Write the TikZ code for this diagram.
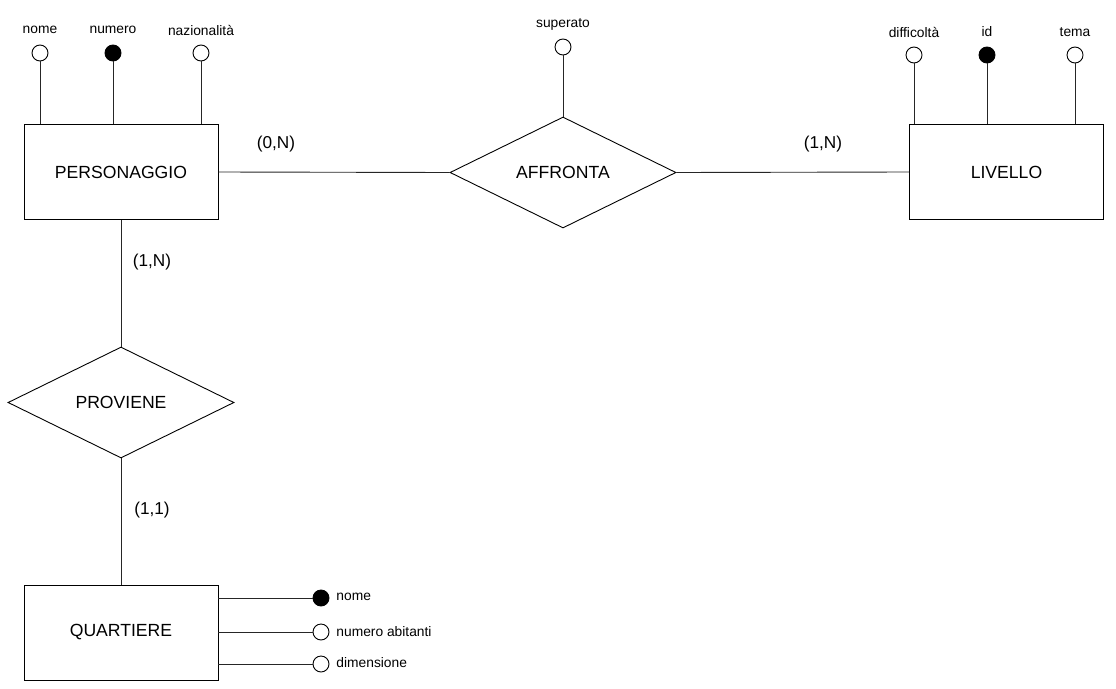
\documentclass[tikz,border=0pt]{standalone}
\usepackage{fontspec}
\setmainfont{Liberation Sans}
\usetikzlibrary{shapes.geometric}
\begin{document}
\begin{tikzpicture}[x=1pt,y=-1pt,
  line width=0.9pt,
  every node/.style={inner sep=0pt},
  entity/.style={draw, minimum width=194pt, minimum height=95pt, font=\fontsize{17.6}{20}\selectfont},
  relation/.style={draw, diamond, aspect=2.02, minimum width=226pt, minimum height=111pt, font=\fontsize{17.6}{20}\selectfont},
  attr/.style={draw, circle, minimum size=16pt, fill=white},
  key/.style={attr, fill=black},
  attrtext/.style={font=\fontsize{13.8}{16}\selectfont},
  card/.style={font=\fontsize{17.2}{20}\selectfont},
  link/.style={draw=black!85}
]
\useasboundingbox (0,0) rectangle (1116,688);

% entities
\node[entity] (pers) at (121,172) {PERSONAGGIO};
\node[entity] (liv)  at (1006.5,172) {LIVELLO};
\node[entity] (quart) at (121,632.5) {QUARTIERE};

% relationships
\node[relation] (aff)  at (563,172.5) {AFFRONTA};
\node[relation] (prov) at (121,402.5) {PROVIENE};

% entity-relationship links
\draw[link] (pers.east) -- (aff.west);
\draw[link] (aff.east) -- (liv.west);
\draw[link] (pers.south) -- (prov.north);
\draw[link] (prov.south) -- (quart.north);

% cardinalities
\node[card] (c1) at (276,144) {(0,N)};
\node[card] (c2) at (823,144) {(1,N)};
\node[card] (c3) at (152,262) {(1,N)};
\node[card] (c4) at (152,510) {(1,1)};

% attributes of PERSONAGGIO
\node[attr] (pnome) at (40,53) {};
\node[key]  (pnum)  at (113,53) {};
\node[attr] (pnaz)  at (201,53) {};
\node[attrtext] (lpnome) at (40,30) {nome};
\node[attrtext] (lpnum)  at (113,30) {numero};
\node[attrtext] (lpnaz)  at (201,30) {nazionalità};
\foreach \a in {pnome,pnum,pnaz}
  \draw[link] (\a.south) -- (\a.south |- pers.north);

% attributes of LIVELLO
\node[attr] (ldiff) at (914,55) {};
\node[key]  (lid)   at (987,55) {};
\node[attr] (ltema) at (1075,55) {};
\node[attrtext] (lldiff) at (914,32) {difficoltà};
\node[attrtext] (llid)   at (987,32) {id};
\node[attrtext] (lltema) at (1075,32) {tema};
\foreach \a in {ldiff,lid,ltema}
  \draw[link] (\a.south) -- (\a.south |- liv.north);

% attribute of AFFRONTA
\node[attr] (sup) at (563,47) {};
\node[attrtext] (lsup) at (563,24) {superato};
\draw[link] (sup.south) -- (aff.north);

% attributes of QUARTIERE
\node[key]  (qnome) at (321,598) {};
\node[attr] (qnum)  at (321,632) {};
\node[attr] (qdim)  at (321,664) {};
\node[attrtext, anchor=west] (lqnome) at (336,597) {nome};
\node[attrtext, anchor=west] (lqnum)  at (336,632) {numero abitanti};
\node[attrtext, anchor=west] (lqdim)  at (336,663) {dimensione};
\foreach \a in {qnome,qnum,qdim}
  \draw[link] (\a.west) -- (\a.west -| quart.east);
\end{tikzpicture}
\end{document}
